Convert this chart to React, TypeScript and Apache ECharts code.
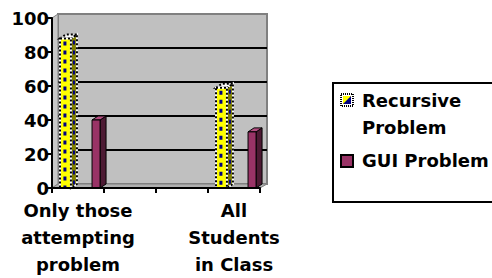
import React, { useEffect, useRef } from "react";
import * as echarts from "echarts";

const categories = ["Only those\nattempting\nproblem", "", "", "All\nStudents\nin Class"];
const recursiveValues = [88, null, null, 59];
const guiValues = [40, null, null, 33];
const seriesNames = ["Recursive\nProblem", "GUI Problem"];
const yTicks = { min: 0, max: 100, interval: 20 };

const FONT = "DejaVu Sans";
const DX = 6;
const DY = -4;

function toData(vals: (number | null)[]) {
  return vals
    .map((v, i) => (v == null ? null : [i, v]))
    .filter((d) => d !== null) as number[][];
}

function makeRender(kind: "rec" | "gui") {
  return (params: any, api: any) => {
    const ci = api.value(0);
    const v = api.value(1);
    const top = api.coord([ci, v]);
    const base = api.coord([ci, 0]);
    const bw = api.size([1, 0])[0];
    const off = kind === "rec" ? -0.346 : 0.27;
    const wf = kind === "rec" ? 0.21 : 0.154;
    const x0 = top[0] + off * bw;
    const w = wf * bw;
    const x1 = x0 + w;
    const y0 = top[1];
    const y1 = base[1];
    const side = [
      [x1, y0],
      [x1 + DX, y0 + DY],
      [x1 + DX, y1 + DY],
      [x1, y1],
    ];
    const topFace = [
      [x0, y0],
      [x0 + DX, y0 + DY],
      [x1 + DX, y0 + DY],
      [x1, y0],
    ];
    if (kind === "gui") {
      return {
        type: "group",
        children: [
          { type: "polygon", shape: { points: side }, style: { fill: "#4d1a33", stroke: "#000", lineWidth: 1 } },
          { type: "polygon", shape: { points: topFace }, style: { fill: "#b34d80", stroke: "#000", lineWidth: 1 } },
          { type: "rect", shape: { x: x0, y: y0, width: w, height: y1 - y0 }, style: { fill: "#993366", stroke: "#000", lineWidth: 1 } },
        ],
      };
    }
    return {
      type: "group",
      children: [
        { type: "polygon", shape: { points: side }, style: { fill: "#808000", stroke: "#fff", lineWidth: 2 } },
        { type: "polygon", shape: { points: side }, style: { fill: "none", stroke: "#000", lineWidth: 2, lineDash: [2, 2] } },
        { type: "line", shape: { x1: x1 + DX / 2, y1: y0 + DY / 2 + 4, x2: x1 + DX / 2, y2: y1 + DY / 2 }, style: { stroke: "#000080", lineWidth: 2, lineDash: [4, 6] } },
        { type: "polygon", shape: { points: topFace }, style: { fill: "#fff", stroke: "#000", lineWidth: 2, lineDash: [2, 2] } },
        { type: "rect", shape: { x: x0, y: y0, width: w, height: y1 - y0 }, style: { fill: "#ffff00", stroke: "#fff", lineWidth: 2 } },
        { type: "rect", shape: { x: x0, y: y0, width: w, height: y1 - y0 }, style: { fill: "none", stroke: "#000", lineWidth: 2, lineDash: [2, 2] } },
        { type: "line", shape: { x1: x0 + w * 0.45, y1: y0 + 3, x2: x0 + w * 0.45, y2: y1 }, style: { stroke: "#000080", lineWidth: 3, lineDash: [4, 5] } },
      ],
    };
  };
}

export default function App() {
  const ref = useRef<HTMLDivElement>(null);
  useEffect(() => {
    if (!ref.current) return;
    const chart = echarts.init(ref.current, undefined, { renderer: "svg" });
    const gL = 52, gT = 18, gW = 208, gH = 170;
    const wallL = gL + DX, wallT = gT + DY;
    const textStyle = { fontFamily: FONT, fontWeight: "bold" as const, fontSize: 18, color: "#000" };
    chart.setOption({
      animation: false,
      backgroundColor: "#fff",
      grid: [
        { left: wallL, top: wallT, width: gW + 1, height: gH, show: true, backgroundColor: "#c0c0c0", borderColor: "#808080", borderWidth: 2, containLabel: false },
        { left: gL, top: gT, width: gW, height: gH, containLabel: false },
      ],
      xAxis: [
        { gridIndex: 0, type: "category", data: categories, show: false },
        {
          gridIndex: 1,
          type: "category",
          data: categories,
          boundaryGap: true,
          z: 10,
          axisLine: { show: true, lineStyle: { color: "#000", width: 2 } },
          axisTick: { show: true, length: 5, interval: 0, lineStyle: { color: "#000", width: 2 } },
          axisLabel: { ...textStyle, interval: 0, margin: 9, lineHeight: 27 },
          splitLine: { show: false },
        },
      ],
      yAxis: [
        {
          gridIndex: 0,
          type: "value",
          ...yTicks,
          axisLine: { show: false },
          axisTick: { show: false },
          axisLabel: { show: false },
          splitLine: { show: true, lineStyle: { color: ["#808080", "#000", "#000", "#000", "#000", "#808080"], width: 2 } },
        },
        {
          gridIndex: 1,
          type: "value",
          ...yTicks,
          z: 10,
          axisLine: { show: true, lineStyle: { color: "#000", width: 2 } },
          axisTick: { show: true, length: 5, lineStyle: { color: "#000", width: 2 } },
          axisLabel: { ...textStyle, margin: 3 },
          splitLine: { show: false },
        },
      ],
      graphic: [
        {
          type: "polygon",
          z: 1,
          shape: { points: [[gL, gT], [wallL, wallT], [wallL, wallT + gH], [gL, gT + gH]] },
          style: { fill: "#c8c8c8", stroke: "#808080", lineWidth: 1 },
        },
        {
          type: "polygon",
          z: 1,
          shape: { points: [[gL, gT + gH], [wallL, wallT + gH], [wallL + gW + 1, wallT + gH], [gL + gW, gT + gH]] },
          style: { fill: "#b0b0b0", stroke: "#808080", lineWidth: 1 },
        },
        {
          type: "rect",
          z: 1,
          shape: { x: 333, y: 83, width: 170, height: 119 },
          style: { fill: "#fff", stroke: "#000", lineWidth: 2 },
        },
        { type: "rect", z: 2, shape: { x: 341, y: 94, width: 12, height: 12 }, style: { fill: "#fff", stroke: "#000", lineWidth: 2, lineDash: [1, 1] } },
        { type: "rect", z: 3, shape: { x: 343, y: 96, width: 8, height: 8 }, style: { fill: "#ffff00" } },
        { type: "polygon", z: 3, shape: { points: [[351, 96], [351, 104], [343, 104]] }, style: { fill: "#000080" } },
        {
          type: "text",
          z: 3,
          left: 362,
          top: 87,
          style: { text: seriesNames[0], fontFamily: FONT, fontWeight: "bold", fontSize: 18, lineHeight: 27, fill: "#000" },
        },
        { type: "rect", z: 3, shape: { x: 341, y: 155, width: 12, height: 12 }, style: { fill: "#993366", stroke: "#000", lineWidth: 2 } },
        {
          type: "text",
          z: 3,
          left: 362,
          top: 147,
          style: { text: seriesNames[1], fontFamily: FONT, fontWeight: "bold", fontSize: 18, lineHeight: 27, fill: "#000" },
        },
      ],
      series: [
        {
          name: seriesNames[0],
          type: "custom",
          xAxisIndex: 1,
          yAxisIndex: 1,
          z: 5,
          data: toData(recursiveValues),
          encode: { x: 0, y: 1 },
          renderItem: makeRender("rec"),
        },
        {
          name: seriesNames[1],
          type: "custom",
          xAxisIndex: 1,
          yAxisIndex: 1,
          z: 5,
          data: toData(guiValues),
          encode: { x: 0, y: 1 },
          renderItem: makeRender("gui"),
        },
      ],
    });
    return () => chart.dispose();
  }, []);
  return <div ref={ref} style={{ position: "fixed", left: 0, top: 0, width: 492, height: 278 }} />;
}
